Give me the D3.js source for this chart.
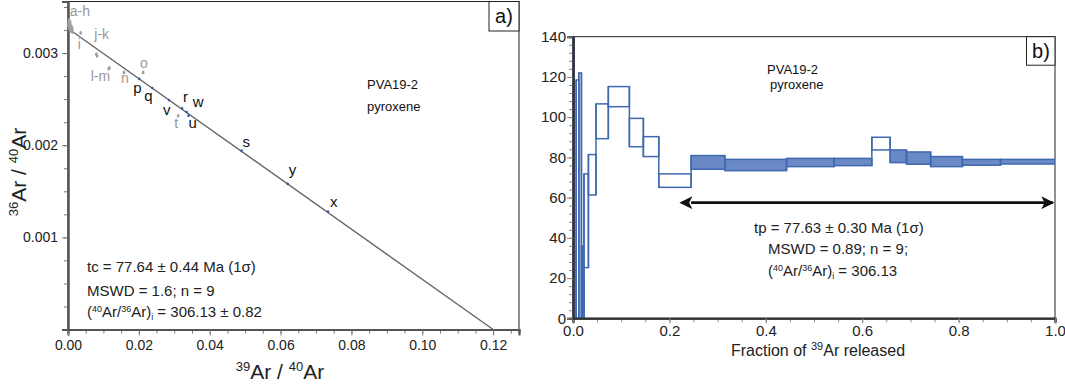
<!DOCTYPE html>
<html><head><meta charset="utf-8">
<script src="https://cdn.jsdelivr.net/npm/d3@7"></script>
<style>body{margin:0;background:#fff}svg text{font-family:"Liberation Sans",Arial,sans-serif}</style>
</head><body>
<svg id="c" width="1065" height="387"></svg>
<script>
// ---------- data ----------
const stepNames = ["a","b","c","d","e","f","g","h","i","j","k","l","m","n","o","p","q","r","s","t","u","v","w","x","y"];
const included  = [0,0,0,0,0,0,0,0,0,0,0,0,0,0,0,1,1,1,1,0,1,1,1,1,1];
// isochron: 39Ar/40Ar and 36Ar/40Ar
const isoX = [0.0002,0.0004,0.0006,0.0008,0.0003,0.0010,0.0005,0.0012,0.0036,0.0080,0.0082,0.0115,0.0117,0.0158,0.0212,0.0201,0.0238,0.0322,0.0490,0.0311,0.0340,0.0285,0.0335,0.0734,0.0620];
const isoY = [0.00331,0.00328,0.00332,0.00326,0.00334,0.00327,0.00330,0.00325,0.00322,0.00299,0.00297,0.00283,0.00284,0.00279,0.00279,0.00272,0.00262,0.00240,0.00194,0.00232,0.00232,0.00249,0.00236,0.00128,0.00158];
const isoYErr = [0.00004,0.00004,0.00004,0.00004,0.00004,0.00004,0.00004,0.00004,0.00002,0.00002,0.00002,0.00002,0.00002,0.00002,0.00002,0.00001,0.00001,0.00001,0.00001,0.00002,0.00001,0.00001,0.00001,0.00001,0.00001];
const isoIntercept36 = 1/306.13;   // (36Ar/40Ar) at 39Ar/40Ar = 0
const isoIntercept39 = 0.1200;     // 39Ar/40Ar at 36Ar/40Ar = 0
// point labels: text, anchor step, offset
const isoLabels = [
  {t:"a-h", s:"a", dx:1,  dy:-9},
  {t:"i",   s:"i", dx:-3, dy:16},
  {t:"j-k", s:"j", dx:-2, dy:-15},
  {t:"l-m", s:"l", dx:-18,dy:12},
  {t:"n",   s:"n", dx:-3, dy:11},
  {t:"o",   s:"o", dx:-3, dy:-4},
  {t:"p",   s:"p", dx:-6, dy:14},
  {t:"q",   s:"q", dx:-8, dy:13},
  {t:"v",   s:"v", dx:-6, dy:15},
  {t:"r",   s:"r", dx:1,  dy:-6},
  {t:"w",   s:"w", dx:6,  dy:-5},
  {t:"u",   s:"u", dx:0,  dy:12},
  {t:"t",   s:"t", dx:-4, dy:12},
  {t:"s",   s:"s", dx:1,  dy:-4},
  {t:"y",   s:"y", dx:1,  dy:-9},
  {t:"x",   s:"x", dx:2,  dy:-5}
];
// age spectrum: cumulative fraction of 39Ar and age (Ma) lower/upper
const fracLo = [0.000,0.002,0.0065,0.012,0.0175,0.0205,0.0215,0.0222,0.0228,0.032,0.0477,0.0733,0.117,0.146,0.178,0.245,0.315,0.443,0.542,0.620,0.658,0.692,0.742,0.808,0.887];
const fracHi = [0.002,0.0065,0.012,0.0175,0.0205,0.0215,0.0222,0.0228,0.032,0.0477,0.0733,0.117,0.146,0.178,0.245,0.315,0.443,0.542,0.620,0.658,0.692,0.742,0.808,0.887,1.000];
const ageLo  = [0,0,0,0,0,0,0,0,25.2,61.3,89.3,105.2,85.3,80.4,65.1,74.1,73.4,75.4,75.9,83.7,77.4,76.6,75.4,76.1,76.7];
const ageHi  = [160,33,118.5,122,36,30,25,20,71.8,81.4,106.6,115.2,99.4,90.3,71.8,80.9,79.0,79.5,79.5,90.0,83.7,82.7,80.4,79.0,79.0];
const plateauAgeY = 57.5;
const leftXTicks = [0,0.02,0.04,0.06,0.08,0.10,0.12];
const leftYTicks = [0.001,0.002,0.003];
const rightXTicks = [0,0.2,0.4,0.6,0.8,1.0];
const rightYTicks = [0,20,40,60,80,100,120,140];

const svg = d3.select("#c");
const BLUE = "#4068b0", FILL = "#6a8ac6";

// ---------- left panel: isochron ----------
const xL = d3.scaleLinear().domain([0,0.1273]).range([68,519]);
const yL = d3.scaleLinear().domain([0,0.00356]).range([329.5,1.5]);
const L = svg.append("g");
L.append("rect").attr("x",68).attr("y",1.5).attr("width",451).attr("height",328).attr("fill","none").attr("stroke","#222").attr("stroke-width",1);

const ax1 = L.append("g").attr("transform","translate(0,329.5)")
  .call(d3.axisBottom(xL).tickValues(d3.range(0,0.1275,0.005)).tickSize(4).tickFormat(""));
const ax2 = L.append("g").attr("transform","translate(0,329.5)")
  .call(d3.axisBottom(xL).tickValues(leftXTicks).tickSize(6).tickPadding(5).tickFormat(d3.format(".2f")));
const ay1 = L.append("g").attr("transform","translate(68,0)")
  .call(d3.axisLeft(yL).tickValues(d3.range(0.00025,0.00356,0.00025)).tickSize(4).tickFormat(""));
const ay2 = L.append("g").attr("transform","translate(68,0)")
  .call(d3.axisLeft(yL).tickValues(leftYTicks).tickSize(6).tickPadding(4).tickFormat(d3.format(".3f")));
[ax1,ax2,ay1,ay2].forEach(a=>{a.select(".domain").attr("stroke","#555").attr("stroke-width",2);a.selectAll("line").attr("stroke","#777");a.selectAll("text").attr("font-size",14).attr("fill","#222").attr("font-family","Liberation Sans, Arial");});

// isochron line
L.append("line").attr("x1",xL(0)).attr("y1",yL(isoIntercept36)).attr("x2",xL(isoIntercept39)).attr("y2",yL(0))
  .attr("stroke","#666").attr("stroke-width",1.4);

// points
const pts = stepNames.map((s,i)=>({s, x:isoX[i], y:isoY[i], e:isoYErr[i], inc:included[i]}));
L.selectAll("ellipse.pt").data(pts).join("ellipse").attr("class","pt")
  .attr("cx",d=>xL(d.x)).attr("cy",d=>yL(d.y))
  .attr("rx",d=>d.inc?1.2:1.4).attr("ry",d=>Math.max(1.4,yL(0)-yL(d.e)))
  .attr("fill",d=>d.inc?"#2f5aa8":"#a0a0a0");
const ptBy = Object.fromEntries(pts.map(p=>[p.s,p]));
L.selectAll("text.lab").data(isoLabels).join("text").attr("class","lab")
  .attr("x",d=>xL(ptBy[d.s].x)+d.dx).attr("y",d=>yL(ptBy[d.s].y)+d.dy)
  .attr("font-size",d=>ptBy[d.s].inc?15:14)
  .attr("fill",d=>ptBy[d.s].inc?"#111":"#999")
  .text(d=>d.t);

// titles
const yt = L.append("text").attr("transform","translate(26,172) rotate(-90)").attr("text-anchor","middle").attr("font-size",21).attr("fill","#222");
yt.append("tspan").attr("font-size",13).attr("dy",-8).text("36");
yt.append("tspan").attr("dy",8).text("Ar / ");
yt.append("tspan").attr("font-size",13).attr("dy",-8).text("40");
yt.append("tspan").attr("dy",8).text("Ar");
const xt = L.append("text").attr("x",280).attr("y",379).attr("text-anchor","middle").attr("font-size",21).attr("fill","#222");
xt.append("tspan").attr("font-size",13).attr("dy",-8).text("39");
xt.append("tspan").attr("dy",8).text("Ar /  ");
xt.append("tspan").attr("font-size",13).attr("dy",-8).text("40");
xt.append("tspan").attr("dy",8).text("Ar");

// stats text
const st = L.append("g").attr("font-size",15).attr("fill","#222");
st.append("text").attr("x",87).attr("y",272).text("tc = 77.64 ± 0.44 Ma (1σ)");
st.append("text").attr("x",87).attr("y",296).text("MSWD = 1.6; n = 9");
const t3 = st.append("text").attr("x",87).attr("y",317);
t3.append("tspan").text("(");
t3.append("tspan").attr("font-size",9).attr("dy",-5).text("40");
t3.append("tspan").attr("dy",5).text("Ar/");
t3.append("tspan").attr("font-size",9).attr("dy",-5).text("36");
t3.append("tspan").attr("dy",5).text("Ar)");
t3.append("tspan").attr("font-size",9).attr("dy",3).text("i");
t3.append("tspan").attr("dy",-3).text(" = 306.13 ± 0.82");

L.append("text").attr("x",367).attr("y",89).attr("font-size",13).attr("font-family","Open Sans").attr("fill","#111").text("PVA19-2");
L.append("text").attr("x",367).attr("y",111).attr("font-size",13).attr("font-family","Open Sans").attr("fill","#111").text("pyroxene");
L.append("rect").attr("x",489).attr("y",1.5).attr("width",30).attr("height",29.5).attr("fill","#fff").attr("stroke","#222");
L.append("text").attr("x",504).attr("y",23).attr("text-anchor","middle").attr("font-size",20).attr("font-family","Open Sans").attr("fill","#111").text("a)");

// ---------- right panel: age spectrum ----------
const xR = d3.scaleLinear().domain([0,1]).range([573,1055]);
const yR = d3.scaleLinear().domain([0,140]).range([318.3,36.7]);
const R = svg.append("g");
R.append("defs").append("clipPath").attr("id","clipR").append("rect").attr("x",573).attr("y",36.7).attr("width",482).attr("height",281.6);
R.append("rect").attr("x",573).attr("y",36.7).attr("width",482).attr("height",281.6).attr("fill","none").attr("stroke","#222").attr("stroke-width",1);

const spec = stepNames.map((s,i)=>({s, f0:fracLo[i], f1:fracHi[i], a0:ageLo[i], a1:ageHi[i], inc:included[i]}));
const G = R.append("g").attr("clip-path","url(#clipR)");
G.selectAll("rect").data(spec).join("rect")
  .attr("x",d=>xR(d.f0)).attr("width",d=>Math.max(0.3,xR(d.f1)-xR(d.f0)))
  .attr("y",d=>yR(d.a1)).attr("height",d=>yR(d.a0)-yR(d.a1))
  .attr("fill",d=>d.inc?FILL:"none").attr("stroke",BLUE).attr("stroke-width",1.5);
// vertical connectors between consecutive steps (staircase outline)
const conn = spec.slice(1).map((d,i)=>({f:d.f0, lo:Math.min(d.a0,spec[i].a0), hi:Math.max(d.a1,spec[i].a1)}));
G.selectAll("line.cn").data(conn).join("line").attr("class","cn")
  .attr("x1",d=>xR(d.f)).attr("x2",d=>xR(d.f)).attr("y1",d=>yR(d.lo)).attr("y2",d=>yR(d.hi))
  .attr("stroke",BLUE).attr("stroke-width",1.5);

const bx1 = R.append("g").attr("transform","translate(0,318.3)")
  .call(d3.axisBottom(xR).tickValues(d3.range(0,1.001,0.05)).tickSize(4).tickFormat(""));
const bx2 = R.append("g").attr("transform","translate(0,318.3)")
  .call(d3.axisBottom(xR).tickValues(rightXTicks).tickSize(5).tickPadding(2).tickFormat(d3.format(".1f")));
const by1 = R.append("g").attr("transform","translate(573,0)")
  .call(d3.axisLeft(yR).tickValues(d3.range(0,141,4)).tickSize(4).tickFormat(""));
const by2 = R.append("g").attr("transform","translate(573,0)")
  .call(d3.axisLeft(yR).tickValues(rightYTicks).tickSize(6).tickPadding(1).tickFormat(d3.format("d")));
[bx1,bx2,by1,by2].forEach(a=>{a.select(".domain").attr("stroke","#333").attr("stroke-width",2);a.selectAll("line").attr("stroke","#888");a.selectAll("text").attr("font-size",15).attr("fill","#222").attr("font-family","Liberation Sans, Arial");});

// plateau arrow
const defs = svg.append("defs");
["s","e"].forEach(k=>{
  defs.append("marker").attr("id","ar"+k).attr("viewBox","0 0 10 10").attr("refX",k==="e"?9:1).attr("refY",5)
    .attr("markerWidth",6).attr("markerHeight",5).attr("markerUnits","strokeWidth").attr("orient","auto-start-reverse")
    .append("path").attr("d","M0,0 L10,5 L0,10 L2.5,5 Z").attr("fill","#111");
});
const pIdx = included.map((v,i)=>v?i:-1).filter(i=>i>=0);
R.append("line").attr("x1",xR(fracLo[pIdx[0]])).attr("x2",xR(fracHi[pIdx[pIdx.length-1]])-2)
  .attr("y1",yR(plateauAgeY)).attr("y2",yR(plateauAgeY))
  .attr("stroke","#111").attr("stroke-width",2.6)
  .attr("marker-start","url(#ars)").attr("marker-end","url(#are)");

const rt = R.append("g").attr("font-size",15).attr("fill","#222");
rt.append("text").attr("x",754).attr("y",233).text("tp = 77.63 ± 0.30 Ma (1σ)");
rt.append("text").attr("x",768).attr("y",254).text("MSWD = 0.89; n = 9;");
const r3 = rt.append("text").attr("x",768).attr("y",276);
r3.append("tspan").text("(");
r3.append("tspan").attr("font-size",9).attr("dy",-5).text("40");
r3.append("tspan").attr("dy",5).text("Ar/");
r3.append("tspan").attr("font-size",9).attr("dy",-5).text("36");
r3.append("tspan").attr("dy",5).text("Ar)");
r3.append("tspan").attr("font-size",9).attr("dy",3).text("i");
r3.append("tspan").attr("dy",-3).text(" = 306.13");

const rx = R.append("text").attr("x",818).attr("y",356).attr("text-anchor","middle").attr("font-size",16).attr("fill","#222");
rx.append("tspan").text("Fraction of ");
rx.append("tspan").attr("font-size",11).attr("dy",-6).text("39");
rx.append("tspan").attr("dy",6).text("Ar released");

R.append("text").attr("x",767).attr("y",74).attr("font-size",13).attr("font-family","Open Sans").attr("fill","#111").text("PVA19-2");
R.append("text").attr("x",770).attr("y",89).attr("font-size",13).attr("font-family","Open Sans").attr("fill","#111").text("pyroxene");
R.append("rect").attr("x",1026.5).attr("y",36.7).attr("width",28.5).attr("height",28.5).attr("fill","#fff").attr("stroke","#222");
R.append("text").attr("x",1041).attr("y",58).attr("text-anchor","middle").attr("font-size",20).attr("font-family","Open Sans").attr("fill","#111").text("b)");
</script>
</body></html>
